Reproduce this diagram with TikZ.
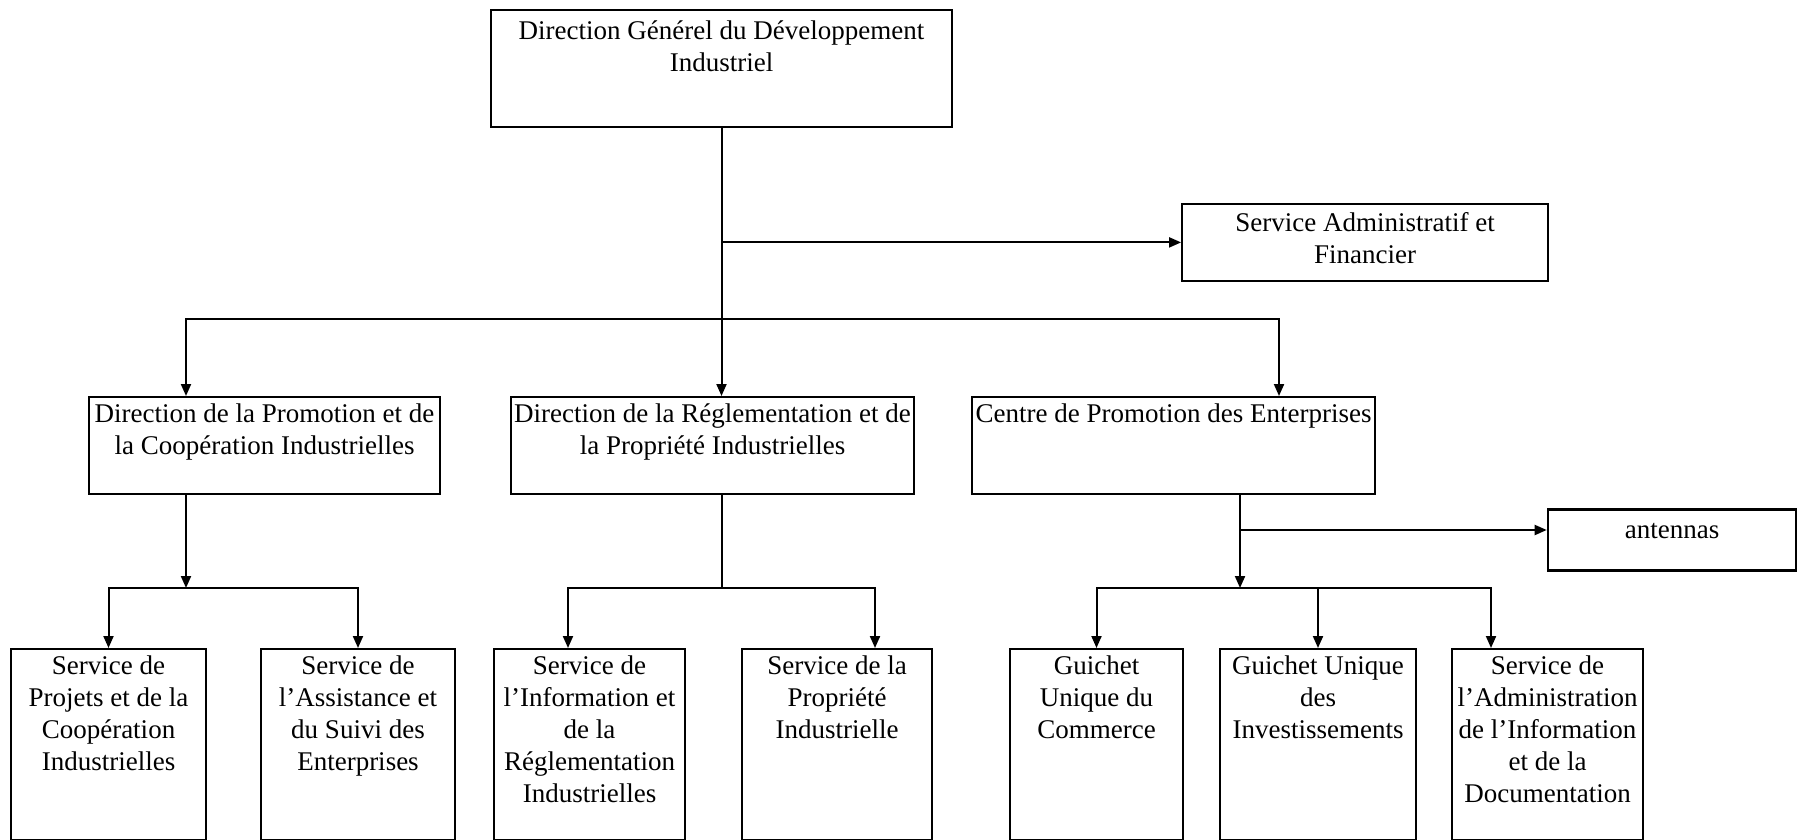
\documentclass[tikz,border=0pt]{standalone}
\usepackage{fontspec}
\setmainfont{Liberation Serif}
\usetikzlibrary{arrows.meta}
\begin{document}
\begin{tikzpicture}[x=1pt,y=-1pt,
    box/.style={draw,line width=1.8pt,anchor=north,inner sep=0pt},
    txt/.style={anchor=north,align=center,inner sep=0pt,font=\fontsize{27}{32}\selectfont},
    link/.style={line width=2pt},
    arr/.style={link,-{Triangle[length=12pt,width=10pt]}}]
    \useasboundingbox (0,0) rectangle (1798,840);
    % top level
    \node[box,minimum width=461pt,minimum height=117pt] (dg) at (721.5,9) {};
    \node[txt] (dgt) at ([yshift=-12pt]dg.north) {Direction Générel du Développement\\Industriel};
    \node[box,minimum width=366pt,minimum height=77pt] (saf) at (1365,203) {};
    \node[txt] (saft) at ([yshift=-9pt]saf.north) {Service Administratif et\\Financier};
    % second level
    \node[box,minimum width=351pt,minimum height=97pt] (dpci) at (264.5,396) {};
    \node[txt] (dpcit) at ([yshift=-8pt]dpci.north) {Direction de la Promotion et de\\la Coopération Industrielles};
    \node[box,minimum width=403pt,minimum height=97pt] (drpi) at (712.5,396) {};
    \node[txt] (drpit) at ([yshift=-8pt]drpi.north) {Direction de la Réglementation et de\\la Propriété Industrielles};
    \node[box,minimum width=403pt,minimum height=97pt] (cpe) at (1173.5,396) {};
    \node[txt] (cpet) at ([yshift=-8pt]cpe.north) {Centre de Promotion des Enterprises};
    \node[box,line width=2.6pt,minimum width=248pt,minimum height=61pt] (ant) at (1672,508) {};
    \node[txt] (antt) at ([yshift=-15pt]ant.north) {antennas};
    % third level
    \node[box,minimum width=195pt,minimum height=191pt] (spci) at (108.5,648) {};
    \node[txt] (spcit) at ([yshift=-8pt]spci.north) {Service de\\Projets et de la\\Coopération\\Industrielles};
    \node[box,minimum width=194pt,minimum height=191pt] (sase) at (358,648) {};
    \node[txt] (saset) at ([yshift=-8pt]sase.north) {Service de\\l’Assistance et\\du Suivi des\\Enterprises};
    \node[box,minimum width=191pt,minimum height=191pt] (siri) at (589.5,648) {};
    \node[txt] (sirit) at ([yshift=-8pt]siri.north) {Service de\\l’Information et\\de la\\Réglementation\\Industrielles};
    \node[box,minimum width=190pt,minimum height=191pt] (spi) at (837,648) {};
    \node[txt] (spit) at ([yshift=-8pt]spi.north) {Service de la\\Propriété\\Industrielle};
    \node[box,minimum width=173pt,minimum height=191pt] (guc) at (1096.5,648) {};
    \node[txt] (guct) at ([yshift=-8pt]guc.north) {Guichet\\Unique du\\Commerce};
    \node[box,minimum width=196pt,minimum height=191pt] (gui) at (1318,648) {};
    \node[txt] (guit) at ([yshift=-8pt]gui.north) {Guichet Unique\\des\\Investissements};
    \node[box,minimum width=191pt,minimum height=191pt] (said) at (1547.5,648) {};
    \node[txt] (saidt) at ([yshift=-8pt]said.north) {Service de\\l’Administration\\de l’Information\\et de la\\Documentation};
    % connectors
    \coordinate (busA) at (721.5,319);
    \coordinate (busB) at (186,588);
    \coordinate (busC) at (721.5,588);
    \coordinate (busD) at (1240,588);
    \coordinate (antj) at (1240,530);
    \draw[link] (dg.south) -- (busA);
    \draw[arr] (dg.south |- saf.west) -- (saf.west);
    \draw[arr] (busA) -- (busA |- drpi.north);
    \draw[arr] (busA) -| (busB |- dpci.north);
    \draw[arr] (busA) -| (1279,396);
    \draw[arr] (busB |- dpci.south) -- (busB);
    \draw[arr] (busB) -| (spci.north);
    \draw[arr] (busB) -| (sase.north);
    \draw[link] (busC |- drpi.south) -- (busC);
    \draw[arr] (busC) -| (568,648);
    \draw[arr] (busC) -| (875,648);
    \draw[arr] (busD |- cpe.south) -- (busD);
    \draw[arr] (antj) -- (ant.west |- antj);
    \draw[arr] (busD) -| (guc.north);
    \draw[arr] (busD) -| (gui.north);
    \draw[arr] (busD) -| (1491,648);
\end{tikzpicture}
\end{document}
